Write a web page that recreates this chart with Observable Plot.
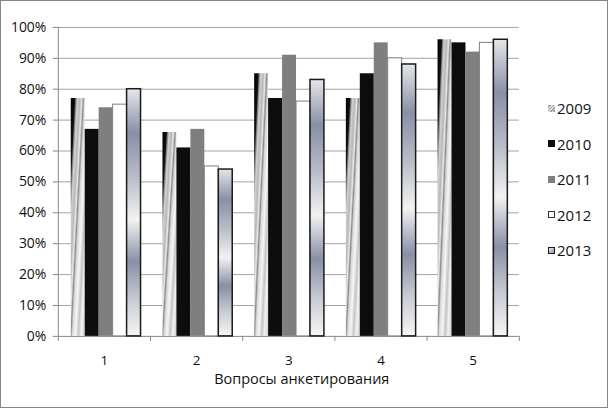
<!DOCTYPE html>
<html>
<head>
<meta charset="utf-8">
<script src="https://cdn.jsdelivr.net/npm/d3@7"></script>
<script src="https://cdn.jsdelivr.net/npm/@observablehq/plot@0.6"></script>
<style>
  body { margin: 0; background: #fff; }
  #chart { position: relative; width: 608px; height: 408px; box-sizing: border-box; border: 1px solid #868686; font-family: "Open Sans", sans-serif; overflow: hidden; }
  #chart > svg.layer { position: absolute; left: -1px; top: -1px; }
  .lg { position: absolute; display: flex; align-items: center; font-size: 15px; color: #111; line-height: 18px; }
  .sw { width: 7px; height: 7px; box-sizing: border-box; margin-right: 2px; }
</style>
</head>
<body>
<svg width="0" height="0" style="position:absolute">
  <defs>
    <linearGradient id="g2009" x1="0" y1="0" x2="1" y2="0.9">
      <stop offset="0" stop-color="#000"/>
      <stop offset="0.16" stop-color="#111"/>
      <stop offset="0.2" stop-color="#777"/>
      <stop offset="0.26" stop-color="#d0d0d0"/>
      <stop offset="0.36" stop-color="#b8b8b8"/>
      <stop offset="0.44" stop-color="#e8e8e8"/>
      <stop offset="0.5" stop-color="#8c8c8c"/>
      <stop offset="0.56" stop-color="#d8d8d8"/>
      <stop offset="0.68" stop-color="#f6f6f6"/>
      <stop offset="0.8" stop-color="#c4c4c4"/>
      <stop offset="0.9" stop-color="#f2f2f2"/>
      <stop offset="1" stop-color="#d8d8d8"/>
    </linearGradient>
    <linearGradient id="g2013" x1="0" y1="0" x2="0" y2="1">
      <stop offset="0" stop-color="#e6e6ea"/>
      <stop offset="0.18" stop-color="#8890a6"/>
      <stop offset="0.36" stop-color="#b9bdc9"/>
      <stop offset="0.53" stop-color="#f2f2f2"/>
      <stop offset="0.7" stop-color="#8890a6"/>
      <stop offset="0.86" stop-color="#cacdd5"/>
      <stop offset="1" stop-color="#f6f6f6"/>
    </linearGradient>
  </defs>
</svg>
<div id="chart"></div>
<script>
// ---- data ----
const questions = ["1", "2", "3", "4", "5"];
const years = ["2009", "2010", "2011", "2012", "2013"];
const values2009 = [0.77, 0.66, 0.85, 0.77, 0.96];
const values2010 = [0.67, 0.61, 0.77, 0.85, 0.95];
const values2011 = [0.74, 0.67, 0.91, 0.95, 0.92];
const values2012 = [0.75, 0.55, 0.76, 0.90, 0.95];
const values2013 = [0.80, 0.54, 0.83, 0.88, 0.96];
const yTicks = [0, 0.1, 0.2, 0.3, 0.4, 0.5, 0.6, 0.7, 0.8, 0.9, 1];
const xLabelTicks = [1, 2, 3, 4, 5];
const xBoundaryTicks = [0.5, 1.5, 2.5, 3.5, 4.5, 5.5];
const xTitle = "Вопросы анкетирования";

const series = [values2009, values2010, values2011, values2012, values2013];
const rows = years.flatMap((year, j) => questions.map((q, i) => ({q, year, value: series[j][i]})));

// ---- styles ----
const fills = ["url(#g2009)", "#0d0d0d", "#7f7f7f", "#ffffff", "url(#g2013)"];
const strokes = ["none", "none", "none", "#7f7f7f", "#1a1a1a"];
const strokeWidths = [0, 0, 0, 1, 1.5];
const legendBg = [
  "repeating-linear-gradient(135deg, #e4e4e4 0 1.2px, #9a9a9a 1.2px 2.4px)",
  "#0d0d0d", "#7f7f7f", "#ffffff",
  "linear-gradient(135deg, #f0f0f2, #8890a6)"
];
const legendBorder = ["none", "none", "none", "1px solid #333", "1px solid #1a1a1a"];

const W = 608, H = 408;
const margins = {marginLeft: 58, marginRight: 87.5, marginTop: 27, marginBottom: 71};
const axisGray = "#868686";

const bg = Plot.plot({
  width: W, height: H, ...margins,
  x: {type: "linear", domain: [xBoundaryTicks[0], xBoundaryTicks[xBoundaryTicks.length - 1]]},
  y: {domain: [0, 1]},
  style: {fontFamily: "Open Sans, sans-serif", fontSize: "14px", color: "#111", background: "transparent"},
  marks: [
    Plot.ruleY(yTicks.slice(1), {stroke: "#a3a3a3"}),
    Plot.ruleY([0], {stroke: axisGray}),
    Plot.ruleX([xBoundaryTicks[0]], {stroke: axisGray}),
    Plot.axisY({ticks: yTicks, tickFormat: d3.format(".0%"), tickSize: 5, tickPadding: 7, stroke: axisGray, fill: "#111", label: null}),
    Plot.axisX({ticks: xBoundaryTicks, tickFormat: () => "", tickSize: 5, stroke: axisGray, label: null}),
    Plot.axisX({ticks: xLabelTicks, tickFormat: d => String(d), tickSize: 0, tickPadding: 19, fontSize: 13.5, fill: "#111", label: null}),
    Plot.text([xTitle], {frameAnchor: "bottom", lineAnchor: "middle", dy: 43, dx: 13, fontSize: 14.5, fill: "#111"})
  ]
});
bg.classList.add("layer");

const bars = Plot.plot({
  width: W, height: H, ...margins,
  fx: {domain: questions, paddingInner: 0.2316, paddingOuter: 0.1158, axis: null, label: null},
  x: {domain: years, padding: 0, axis: null},
  y: {domain: [0, 1], axis: null},
  style: {background: "transparent"},
  marks: years.map((year, j) => Plot.barY(rows.filter(d => d.year === year), {
    fx: "q", x: "year", y: "value",
    fill: fills[j], stroke: strokes[j], strokeWidth: strokeWidths[j]
  }))
});
bars.classList.add("layer");

const chart = document.getElementById("chart");
chart.appendChild(bg);
chart.appendChild(bars);

// legend
years.forEach((year, i) => {
  const el = document.createElement("div");
  el.className = "lg";
  el.style.left = (548 - 1) + "px";
  el.style.top = (108 + i * 35.5 - 9 - 1) + "px";
  const sw = document.createElement("div");
  sw.className = "sw";
  sw.style.background = legendBg[i];
  sw.style.border = legendBorder[i];
  el.appendChild(sw);
  const t = document.createElement("span");
  t.textContent = year;
  el.appendChild(t);
  chart.appendChild(el);
});
</script>
</body>
</html>
